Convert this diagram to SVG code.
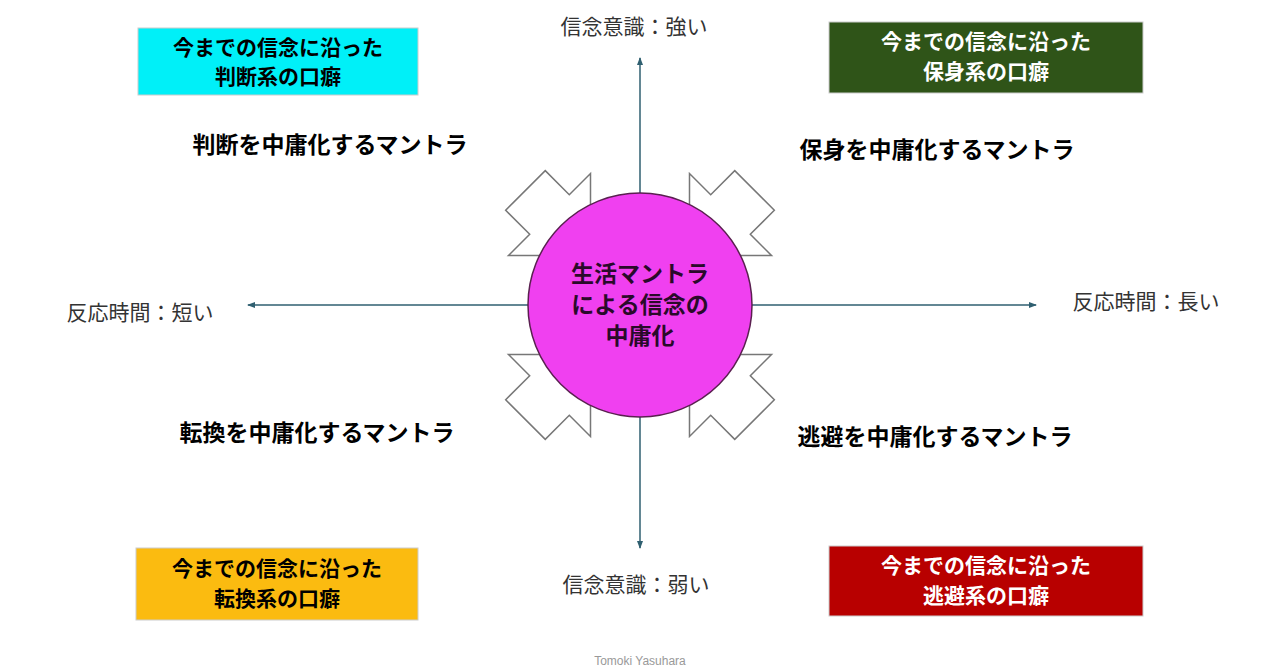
<svg xmlns="http://www.w3.org/2000/svg" width="1280" height="670" viewBox="0 0 1280 670">
<style>
.t{font-family:"Noto Sans CJK JP","Noto Sans",sans-serif;}
.b{font-weight:bold;font-size:23px;}
.bx{font-weight:bold;font-size:21px;}
.ax{font-size:21px;fill:#333;}
.box{stroke:#ccc;stroke-width:1;}
.arr{fill:#fff;stroke:#777;stroke-width:1.5;}
</style>
<defs>
<marker id="ah" markerWidth="8" markerHeight="8" refX="7" refY="4" orient="auto" markerUnits="userSpaceOnUse"><path d="M0,1 L8,4 L0,7 Z" fill="#2f5f70"/></marker>
<path id="blk" d="M-162,-28 L-128,-28 L-128,-58 L-70,0 L-128,58 L-128,28 L-162,28 Z"/>
</defs>
<rect width="1280" height="670" fill="#fff"/>
<g id="connectors" stroke="#2f5f70" stroke-width="1.5">
<line x1="640" y1="305" x2="248" y2="305" marker-end="url(#ah)"/>
<line x1="640" y1="305" x2="1036" y2="305" marker-end="url(#ah)"/>
<line x1="640" y1="305" x2="640" y2="58" marker-end="url(#ah)"/>
<line x1="640" y1="305" x2="640" y2="548" marker-end="url(#ah)"/>
</g>
<g id="arrows">
<use href="#blk" class="arr" transform="translate(640,305) rotate(45)"/>
<use href="#blk" class="arr" transform="translate(640,305) rotate(135)"/>
<use href="#blk" class="arr" transform="translate(640,305) rotate(225)"/>
<use href="#blk" class="arr" transform="translate(640,305) rotate(-45)"/>
</g>
<g id="center">
<circle cx="640" cy="305" r="112" fill="#f040f0" stroke="#5a2050" stroke-width="1.5"/>
<text class="t b" x="640" y="282" text-anchor="middle" fill="#2a0a2a">生活マントラ</text>
<text class="t b" x="640" y="313" text-anchor="middle" fill="#2a0a2a">による信念の</text>
<text class="t b" x="640" y="344" text-anchor="middle" fill="#2a0a2a">中庸化</text>
</g>
<g id="box-tl"><rect class="box" x="138" y="28" width="280" height="67" fill="#00f0f8"/>
<text class="t bx" x="278" y="55" text-anchor="middle">今までの信念に沿った</text>
<text class="t bx" x="278" y="84" text-anchor="middle">判断系の口癖</text></g>
<g id="box-tr"><rect class="box" x="829" y="22" width="314" height="71" fill="#2f5418"/>
<text class="t bx" x="986" y="49" text-anchor="middle" fill="#fff">今までの信念に沿った</text>
<text class="t bx" x="986" y="79" text-anchor="middle" fill="#fff">保身系の口癖</text></g>
<g id="box-bl"><rect class="box" x="136" y="548" width="282" height="72" fill="#fbbb10"/>
<text class="t bx" x="277" y="576" text-anchor="middle">今までの信念に沿った</text>
<text class="t bx" x="277" y="606" text-anchor="middle">転換系の口癖</text></g>
<g id="box-br"><rect class="box" x="829" y="546" width="314" height="70" fill="#b80000"/>
<text class="t bx" x="986" y="573" text-anchor="middle" fill="#fff">今までの信念に沿った</text>
<text class="t bx" x="986" y="603" text-anchor="middle" fill="#fff">逃避系の口癖</text></g>
<g id="labels">
<text class="t b" x="330" y="153" text-anchor="middle">判断を中庸化するマントラ</text>
<text class="t b" x="937" y="158" text-anchor="middle">保身を中庸化するマントラ</text>
<text class="t b" x="317" y="441" text-anchor="middle">転換を中庸化するマントラ</text>
<text class="t b" x="935" y="445" text-anchor="middle">逃避を中庸化するマントラ</text>
<text class="t ax" x="634" y="34" text-anchor="middle">信念意識：強い</text>
<text class="t ax" x="636" y="592" text-anchor="middle">信念意識：弱い</text>
<text class="t ax" x="140" y="320" text-anchor="middle">反応時間：短い</text>
<text class="t ax" x="1146" y="309" text-anchor="middle">反応時間：長い</text>
<text x="640" y="665" text-anchor="middle" font-family="Liberation Sans,sans-serif" font-size="12" fill="#999">Tomoki Yasuhara</text>
</g>
</svg>
